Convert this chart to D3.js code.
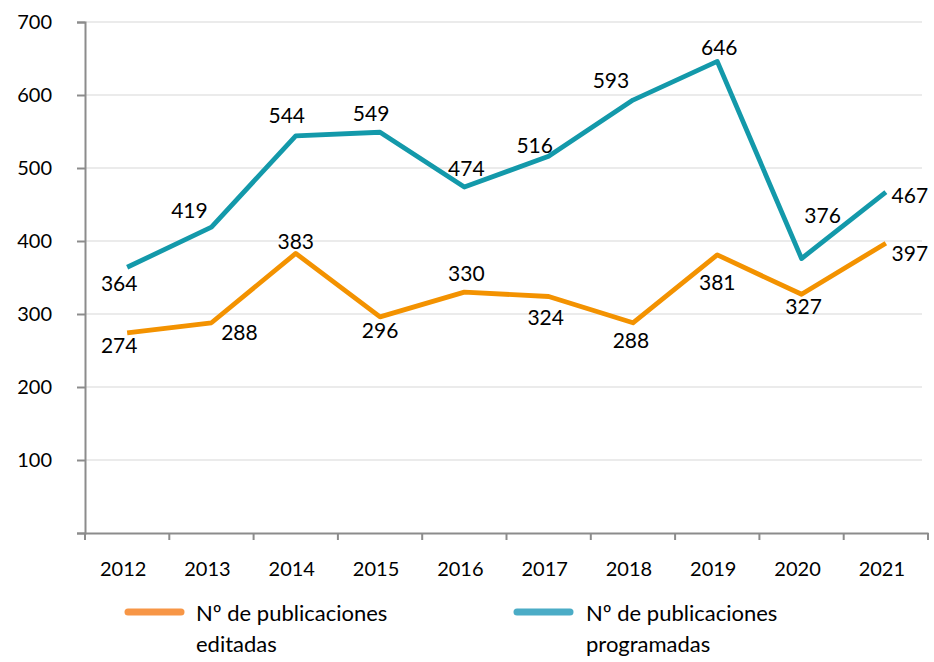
<!DOCTYPE html>
<html>
<head>
<meta charset="utf-8">
<script src="https://cdn.jsdelivr.net/npm/d3@7"></script>
<style>
  body { margin: 0; background: #fff; }
  svg { display: block; }
  text { font-family: Lato, "Open Sans", sans-serif; fill: #000; }
</style>
</head>
<body>
<svg id="chart" width="934" height="662"></svg>
<script>
const years = ["2012","2013","2014","2015","2016","2017","2018","2019","2020","2021"];
const editadas = [274, 288, 383, 296, 330, 324, 288, 381, 327, 397];
const programadas = [364, 419, 544, 549, 474, 516, 593, 646, 376, 467];
const yTicks = [100, 200, 300, 400, 500, 600, 700];
const seriesNames = ["Nº de publicaciones editadas", "Nº de publicaciones programadas"];

// label placements (text-center offsets from the point, px)
const editadasLabelOffset = [[-8,12],[28,10],[0,-12],[0,14],[2,-19],[-3,21],[-2,18],[0,28],[2,12],[24,10]];
const programadasLabelOffset = [[-8,16],[-22,-17],[-9,-20],[-9,-19],[2,-19],[-14,-11],[-22,-20],[2,-14],[21,-43],[24,3]];

(function () {
const svg = d3.select("#chart");
const mLeft = 85, mRight = 928, mTop = 22, mBottom = 533;

const x = d3.scaleBand().domain(years).range([mLeft, mRight]);
const y = d3.scaleLinear().domain([0, 700]).range([mBottom, mTop]);

// gridlines
svg.append("g").selectAll("line").data(yTicks).join("line")
  .attr("x1", mLeft).attr("x2", 922)
  .attr("y1", d => y(d)).attr("y2", d => y(d))
  .attr("stroke", "#e4e4e4").attr("stroke-width", 1.3);

// y axis
const yAxis = svg.append("g").attr("transform", `translate(${mLeft},0)`)
  .call(d3.axisLeft(y).tickValues([0, ...yTicks]).tickSize(8).tickPadding(25).tickFormat(d => d === 0 ? "" : d));
yAxis.select(".domain").attr("stroke", "#8c8c8c").attr("stroke-width", 2);
yAxis.selectAll(".tick line").attr("stroke", "#8c8c8c").attr("stroke-width", 2);
yAxis.selectAll("text").style("font-size", "20px").attr("fill", "#000");

// x axis
const xAxis = svg.append("g").attr("transform", `translate(0,${mBottom})`)
  .call(d3.axisBottom(x).tickSize(0).tickPadding(29));
xAxis.select(".domain").attr("stroke", "#8c8c8c").attr("stroke-width", 2);
xAxis.selectAll("text").style("font-size", "20px").attr("fill", "#000").attr("dx", -4);
const bounds = years.map(d => x(d)).concat([mRight]);
xAxis.selectAll(".btick").data(bounds).join("line").attr("class", "btick")
  .attr("x1", d => d).attr("x2", d => d).attr("y1", 0).attr("y2", 7)
  .attr("stroke", "#8c8c8c").attr("stroke-width", 2);

const cx = d => x(d) + x.bandwidth() / 2;
const line = d3.line().x((d, i) => cx(years[i])).y(d => y(d));

const series = [
  { vals: programadas, color: "#1399aa", offs: programadasLabelOffset },
  { vals: editadas, color: "#f39200", offs: editadasLabelOffset }
];

series.forEach(s => {
  svg.append("path").datum(s.vals)
    .attr("d", line).attr("fill", "none")
    .attr("stroke", s.color).attr("stroke-width", 4.8)
    .attr("stroke-linejoin", "round").attr("stroke-linecap", "butt");
  svg.append("g").selectAll("text").data(s.vals).join("text")
    .attr("x", (d, i) => cx(years[i]) + s.offs[i][0])
    .attr("y", (d, i) => y(d) + s.offs[i][1])
    .attr("dy", "0.36em")
    .attr("text-anchor", "middle")
    .style("font-size", "21px")
    .text(d => d);
});

// legend
const legend = [
  { name: seriesNames[0], color: "#f79646", x1: 128, tx: 196 },
  { name: seriesNames[1], color: "#4bacc6", x1: 517, tx: 586 }
];
legend.forEach(l => {
  svg.append("line").attr("x1", l.x1).attr("x2", l.x1 + 53)
    .attr("y1", 612).attr("y2", 612)
    .attr("stroke", l.color).attr("stroke-width", 7).attr("stroke-linecap", "round");
  const words = l.name.split(" ");
  const t = svg.append("text").attr("x", l.tx).attr("y", 621).style("font-size", "22px");
  t.append("tspan").attr("x", l.tx).text(words.slice(0, 3).join(" "));
  t.append("tspan").attr("x", l.tx).attr("dy", 31).text(words.slice(3).join(" "));
});
})();
</script>
</body>
</html>
